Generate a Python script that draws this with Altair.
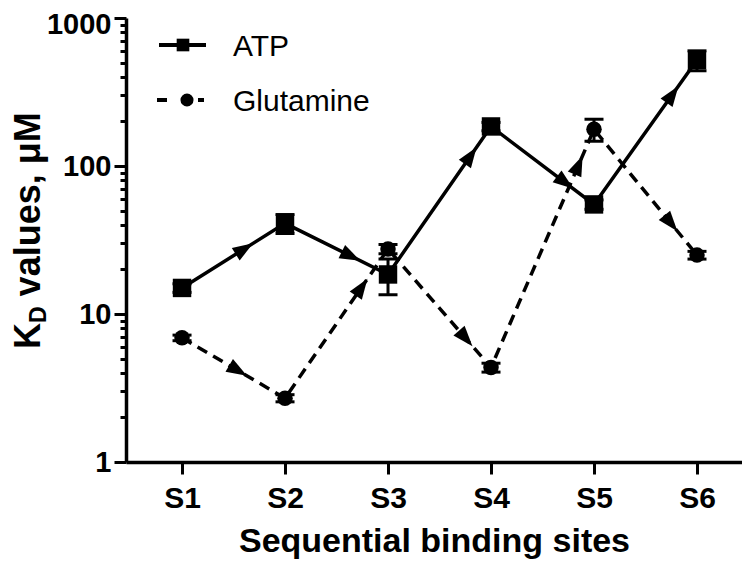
import math
import altair as alt
import pandas as pd

# ---------------- data ----------------
sites = ["S1", "S2", "S3", "S4", "S5", "S6"]
atp = [15, 41, 18.5, 185, 55, 520]
atp_err = [1, 6, 5, 12, 4, 80]
glu = [6.9, 2.7, 27.5, 4.35, 177, 25]
glu_err = [0.3, 0.15, 2, 0.3, 30, 1.5]
# position of each arrow tip along its segment (fraction of the step)
atp_arrow = [0.69, 0.73, 0.86, 0.80, 0.82]
glu_arrow = [0.63, 0.80, 0.82, 0.89, 0.81]
major_ticks = [1, 10, 100, 1000]
y_ticks = [1, 2, 3, 4, 5, 6, 7, 8, 9, 10, 20, 30, 40, 50, 60, 70, 80, 90,
           100, 200, 300, 400, 500, 600, 700, 800, 900, 1000]

# ---------------- layout ----------------
W, H = 616, 444
LEFT, TOP = 126, 18          # page position of plot origin
XMIN, XMAX = 0.456, 6.437
YMIN, YMAX = 1, 1000
PX = W / (XMAX - XMIN)
PY = H / (math.log10(YMAX) - math.log10(YMIN))
FONT = "Liberation Sans"

rows = []
for name, vals, errs in (("ATP", atp, atp_err), ("Glutamine", glu, glu_err)):
    for i, (s, v, e) in enumerate(zip(sites, vals, errs)):
        rows.append({"series": name, "k": i + 1, "site": s, "value": v,
                     "lo": v - e, "hi": v + e})
df = pd.DataFrame(rows)

arows = []
for name, vals, fr in (("ATP", atp, atp_arrow), ("Glutamine", glu, glu_arrow)):
    for i, f in enumerate(fr):
        l0, l1 = math.log10(vals[i]), math.log10(vals[i + 1])
        dx = PX
        dy = -PY * (l1 - l0)
        ang = math.degrees(math.atan2(dx, -dy)) % 360
        arows.append({"series": name, "k": i + 1 + f,
                      "value": 10 ** (l0 + f * (l1 - l0)), "angle": ang})
adf = pd.DataFrame(arows)

label_js = "[" + ",".join("'%s'" % s for s in sites) + "]"
major_js = "[" + ",".join(str(m) for m in major_ticks) + "]"
is_major = "indexof(" + major_js + ", datum.value) >= 0"

xscale = alt.Scale(domain=[XMIN, XMAX], nice=False, zero=False)
yscale = alt.Scale(type="log", domain=[YMIN, YMAX], nice=False)

x_axis = alt.Axis(values=list(range(1, len(sites) + 1)),
                  labelExpr=label_js + "[datum.value-1]",
                  title="Sequential binding sites", grid=False,
                  tickSize=12, tickWidth=3, domainWidth=3.5,
                  labelFont=FONT, labelFontSize=30, labelFontWeight="bold",
                  labelPadding=9, labelOverlap=False, labelFlush=False,
                  titleFont=FONT, titleFontSize=34, titleFontWeight="bold",
                  titlePadding=11,
                  domainColor="black", tickColor="black",
                  labelColor="black", titleColor="black")
y_axis = alt.Axis(values=y_ticks,
                  labelExpr=is_major + " ? format(datum.value, 'd') : ''",
                  title=None, grid=False,
                  tickSize={"condition": {"test": is_major, "value": 12}, "value": 6},
                  labelOffset={"condition": {"test": "datum.value == 1000", "value": 6}, "value": 0},
                  tickWidth=3, domainWidth=3.5,
                  labelFont=FONT, labelFontSize=29, labelFontWeight="bold",
                  labelPadding=3, labelOverlap=False, labelFlush=False,
                  domainColor="black", tickColor="black", labelColor="black")

X = alt.X("k:Q", scale=xscale, axis=x_axis)
Y = alt.Y("value:Q", scale=yscale, axis=y_axis)
Xn = alt.X("k:Q", scale=xscale)
Yn = alt.Y("value:Q", scale=yscale)

base = alt.Chart(df)
atp_df = base.transform_filter(alt.datum.series == "ATP")
glu_df = base.transform_filter(alt.datum.series == "Glutamine")

err_rule = base.mark_rule(color="black", strokeWidth=3).encode(
    x=Xn, y=alt.Y("lo:Q", scale=yscale), y2="hi:Q")
cap_lo = base.mark_tick(color="black", orient="horizontal", size=19,
                        thickness=3, opacity=1).encode(
    x=Xn, y=alt.Y("lo:Q", scale=yscale))
cap_hi = base.mark_tick(color="black", orient="horizontal", size=19,
                        thickness=3, opacity=1).encode(
    x=Xn, y=alt.Y("hi:Q", scale=yscale))

line_atp = atp_df.mark_line(color="black", strokeWidth=3.5).encode(x=X, y=Y)
line_glu = glu_df.mark_line(color="black", strokeWidth=3.5,
                            strokeDash=[11, 7]).encode(x=Xn, y=Yn)
pts_atp = atp_df.mark_point(shape="square", filled=True, size=340,
                            opacity=1, color="black").encode(x=Xn, y=Yn)
pts_glu = glu_df.mark_point(shape="circle", filled=True, size=240,
                            opacity=1, color="black").encode(x=Xn, y=Yn)

arrows = alt.Chart(adf).mark_point(
    shape="M0,0L0.72,2L-0.72,2Z", filled=True, size=420, opacity=1,
    color="black").encode(
    x=Xn, y=Yn, angle=alt.Angle("angle:Q", scale=None))

# ---------------- legend (drawn in pixel space) ----------------
one = alt.Chart(pd.DataFrame({"a": [0]}))
def px(v):
    return alt.value(v - LEFT)
def py(v):
    return alt.value(v - TOP)

leg_atp_line = one.mark_rule(color="black", strokeWidth=4).encode(
    x=px(159), x2=px(206), y=py(45))
leg_atp_pt = one.mark_point(shape="square", filled=True, size=160,
                            opacity=1, color="black").encode(x=px(183), y=py(45))
leg_atp_txt = one.mark_text(font=FONT, fontSize=30, align="left",
                            baseline="alphabetic", color="black").encode(
    x=px(233), y=py(56), text=alt.value("ATP"))
leg_glu_d1 = one.mark_rule(color="black", strokeWidth=4).encode(
    x=px(157), x2=px(167), y=py(100))
leg_glu_d2 = one.mark_rule(color="black", strokeWidth=4).encode(
    x=px(198), x2=px(204), y=py(100))
leg_glu_pt = one.mark_point(shape="circle", filled=True, size=170,
                            opacity=1, color="black").encode(x=px(187), y=py(100))
leg_glu_txt = one.mark_text(font=FONT, fontSize=30, align="left",
                            baseline="alphabetic", color="black").encode(
    x=px(233), y=py(111), text=alt.value("Glutamine"))

# ---------------- y title with subscript ----------------
Y0 = 349
TF = 36
SF = 23
t_k = one.mark_text(font=FONT, fontSize=TF, fontWeight="bold", angle=270,
                    align="left", baseline="alphabetic", color="black").encode(
    x=px(40), y=py(Y0), text=alt.value("K"))
t_d = one.mark_text(font=FONT, fontSize=SF, fontWeight="bold", angle=270,
                    align="left", baseline="alphabetic", color="black").encode(
    x=px(46), y=py(Y0 - 0.722 * TF), text=alt.value("D"))
t_rest = one.mark_text(font=FONT, fontSize=TF, fontWeight="bold", angle=270,
                       align="left", baseline="alphabetic", color="black").encode(
    x=px(40), y=py(Y0 - 0.722 * TF - 0.722 * SF - 0.278 * TF),
    text=alt.value("values, μM"))

chart = alt.layer(
    line_atp, line_glu, err_rule, cap_lo, cap_hi, arrows, pts_atp, pts_glu,
    leg_atp_line, leg_atp_pt, leg_atp_txt, leg_glu_d1, leg_glu_d2,
    leg_glu_pt, leg_glu_txt, t_k, t_d, t_rest
).properties(
    width=W, height=H,
    autosize=alt.AutoSizeParams(type="none"),
    padding={"left": LEFT - 8, "top": TOP - 8, "right": 0, "bottom": 98},
    background="white",
).configure_view(stroke=None)

chart.save("out.html", embed_options={"renderer": "svg", "actions": False})
